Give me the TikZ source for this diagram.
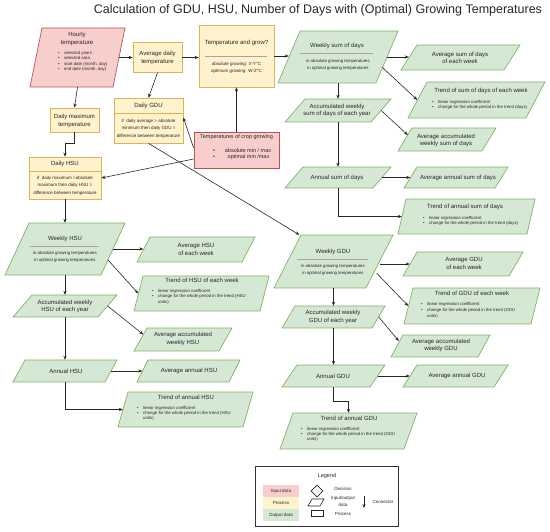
\documentclass[tikz,border=0pt]{standalone}
\usepackage{fontspec}
\setmainfont{Liberation Sans}
\usetikzlibrary{arrows.meta,calc,shapes.geometric}
\definecolor{redF}{HTML}{F8CECC}\definecolor{redD}{HTML}{B85450}
\definecolor{ylwF}{HTML}{FFF2CC}\definecolor{ylwD}{HTML}{D6B656}
\definecolor{grnF}{HTML}{D5E8D4}\definecolor{grnD}{HTML}{82B366}
\tikzset{
 redbox/.style={draw=redD, fill=redF, line width=0.7pt},
 ylwbox/.style={draw=ylwD, fill=ylwF, line width=0.7pt},
 grnbox/.style={draw=grnD, fill=grnF, line width=0.7pt},
 txt/.style={font=\fontsize{6}{7.5}\selectfont, inner sep=0pt, align=center, text=black!85},
 txtb/.style={font=\fontsize{5.5}{6.5}\selectfont, inner sep=0pt, align=center, text=black!85},
 sml/.style={font=\fontsize{4.3}{7}\selectfont, inner sep=0pt, align=center, text=black!85},
 arr/.style={-{Stealth[length=4pt,width=3.2pt]}, line width=0.6pt, draw=black!85},
 sepline/.style={draw=gray!70, line width=0.5pt},
}
\newcommand\pgram[7]{%
 \draw[#1] (#3,#5) -- (#4,#5) -- ({#4-#7},#6) -- ({#3-#7},#6) -- cycle;
 \pgfmathsetmacro\pgWid{#4-#3}\pgfmathsetmacro\pgHei{#6-#5}%
 \pgfmathsetmacro\pgCx{(#3+#4-#7)/2}\pgfmathsetmacro\pgCy{(#5+#6)/2}%
 \node[inner sep=0pt, minimum width=\pgWid pt, minimum height=\pgHei pt] (#2) at (\pgCx,\pgCy) {};
}
\newcommand\blist[5]{\node[anchor=base west, inner sep=0pt, align=left, text=black!85, font=\fontsize{4.3}{#4}\selectfont] (#1) at (#2,#3) {\begin{tabular}[t]{@{}l@{\hspace{4.5pt}}l@{}}#5\end{tabular}};}
\begin{document}
\begin{tikzpicture}[x=1pt,y=-1pt]
\useasboundingbox (0,0) rectangle (550,532);
% title
\node[inner sep=0pt, font=\fontsize{12.5}{14}\selectfont, text=black!85] (title) at (318,10) {Calculation of GDU, HSU, Number of Days with (Optimal) Growing Temperatures};

% ---- top row
\pgram{redbox}{hourly}{42}{125}{28}{87}{12}
\node[txt, font=\fontsize{6}{8}\selectfont] (hourlyT) at (77,39) {Hourly\\temperature};
\blist{hourlyL}{58}{54.5}{5.3}{•&selected years\\•&selected area\\•&start date (month, day)\\•&end date (month, day)}

\node[ylwbox, minimum width=49pt, minimum height=30pt, inner sep=0pt] (avgd) at (157.5,57.5) {};
\node[txt, font=\fontsize{6}{8}\selectfont] (avgdT) at (157.5,58) {Average daily\\temperature};

\node[ylwbox, minimum width=75pt, minimum height=62pt, inner sep=0pt] (tg) at (236.5,56) {};
\node[txt] (tgT) at (236.5,43) {Temperature and grow?};
\draw[sepline] (205,56) -- (267,56);
\node[sml, font=\fontsize{4.5}{7.5}\selectfont] (tgS) at (236.5,68) {absolute growing: X-Y°C\\optimum growing: W-Z°C};

\node[ylwbox, minimum width=49pt, minimum height=24pt, inner sep=0pt] (dmax) at (74.5,120) {};
\node[txt, font=\fontsize{6}{8}\selectfont] (dmaxT) at (74.5,121) {Daily maximum\\temperature};

\node[ylwbox, minimum width=69pt, minimum height=45pt, inner sep=0pt] (dgdu) at (148.5,120.5) {};
\draw[draw=ylwD, line width=0.7pt] (dgdu.west |- 0,113) -- (dgdu.east |- 0,113);
\node[txt] (dgduT) at (148.5,106) {Daily GDU};
\node[sml, font=\fontsize{4.5}{7.5}\selectfont] (dgduS) at (148.5,128.5) {if~ daily average > absolute\\minimum then daily GDU =\\difference between temperature};

\node[redbox, minimum width=85pt, minimum height=36pt, inner sep=0pt] (crop) at (236.5,150) {};
\node[txtb] (cropT) at (236.5,137.5) {Temperatures of crop growing};
\node[txtb] (cropB1) at (214,151) {•};
\node[txtb] (cropB2) at (214,157.5) {•};
\node[txtb] (cropL1) at (248,151) {absolute min / max};
\node[txtb] (cropL2) at (248.5,157.5) {optimal min /max};

\node[ylwbox, minimum width=72pt, minimum height=42pt, inner sep=0pt] (dhsu) at (65,178) {};
\draw[draw=ylwD, line width=0.7pt] (dhsu.west |- 0,171) -- (dhsu.east |- 0,171);
\node[txt] (dhsuT) at (65,164) {Daily HSU};
\node[sml, font=\fontsize{4.5}{7.5}\selectfont] (dhsuS) at (65,185.5) {if~ daily maximum >absolute\\maximum then daily HSU =\\difference between temperature};

% ---- right column: sum of days
\pgram{grnbox}{wsd}{300}{398}{31}{83}{22}
\node[txt] (wsdT) at (337,46) {Weekly sum of days};
\draw[sepline] (300,53) -- (373,53);
\node[sml] (wsdS) at (338,64.5) {in absolute growing temperatures\\in optimal growing temperatures};

\pgram{grnbox}{asd}{417}{520}{45}{70}{16}
\node[txt] (asdT) at (460,58) {Average sum of days\\of each week};

\pgram{grnbox}{tsd}{427}{545}{82}{118}{19}
\node[txt] (tsdT) at (481,91) {Trend of sum of days of each week};
\blist{tsdL}{432}{103.5}{5.5}{•&linear regression coefficient\\•&change for the whole period in the trend (days)}

\pgram{grnbox}{acd}{305}{391}{99}{122}{20}
\node[txt] (acdT) at (337,110.5) {Accumulated weekly\\sum of days of each year};

\pgram{grnbox}{aacd}{412}{496}{128}{151}{14}
\node[txt] (aacdT) at (446,140.5) {Average accumulated\\weekly sum of days};

\pgram{grnbox}{asum}{303}{391}{167}{188}{18}
\node[txt] (asumT) at (337,178) {Annual sum of days};

\pgram{grnbox}{aasd}{417}{508}{167}{188}{13}
\node[txt] (aasdT) at (458,178) {Average annual sum of days};

\pgram{grnbox}{tasd}{406}{535}{199}{234}{8}
\node[txt] (tasdT) at (465,207) {Trend of annual sum of days};
\blist{tasdL}{423}{219.5}{5.5}{•&linear regression coefficient\\•&change for the whole period in the trend (days)}

% ---- right column: GDU
\pgram{grnbox}{wgdu}{301}{393}{235}{288}{27}
\node[txt] (wgduT) at (333,252) {Weekly GDU};
\draw[sepline] (297,259) -- (368,259);
\node[sml] (wgduS) at (333,269.5) {in absolute growing temperatures\\in optimal growing temperatures};

\pgram{grnbox}{agdu}{417}{523}{252}{276}{14}
\node[txt] (agduT) at (464,263.5) {Average GDU\\of each week};

\pgram{grnbox}{tgdu}{413}{540}{288}{324}{9}
\node[txt] (tgduT) at (472,293) {Trend of GDU of each week};
\blist{tgduL}{421}{305.5}{5.8}{•&linear regression coefficient\\•&change for the whole period in the trend (GDU\\&units)}

\pgram{grnbox}{accg}{295}{385}{306}{328}{13}
\node[txt] (accgT) at (333,317) {Accumulated weekly\\GDU of each year};

\pgram{grnbox}{aacg}{403}{490}{335}{357}{12}
\node[txt] (aacgT) at (441,345.5) {Average accumulated\\weekly GDU};

\pgram{grnbox}{anng}{297}{385}{365}{387}{15}
\node[txt] (anngT) at (333,376.5) {Annual GDU};

\pgram{grnbox}{aang}{417}{508}{365}{387}{14}
\node[txt] (aangT) at (457,376) {Average annual GDU};

\pgram{grnbox}{tang}{293}{417}{413}{449}{13}
\node[txt] (tangT) at (349,418.5) {Trend of annual GDU};
\blist{tangL}{301}{430.5}{5.2}{•&linear regression coefficient\\•&change for the whole period in the trend (GDU\\&units)}

% ---- left column: HSU
\pgram{grnbox}{whsu}{29}{125}{223}{275}{24}
\node[txt] (whsuT) at (65,239) {Weekly HSU};
\draw[sepline] (30,246) -- (99,246);
\node[sml] (whsuS) at (65,257) {in absolute growing temperatures\\in optimal growing temperatures};

\pgram{grnbox}{ahsu}{150}{255}{237}{262}{13}
\node[txt] (ahsuT) at (196,249.5) {Average HSU\\of each week};

\pgram{grnbox}{thsu}{143}{269}{276}{311}{9}
\node[txt] (thsuT) at (202,280.5) {Trend of HSU of each week};
\blist{thsuL}{152}{292.5}{5.4}{•&linear regression coefficient\\•&change for the whole period in the trend (HSU\\&units)}

\pgram{grnbox}{acch}{32}{117}{295}{317}{19}
\node[txt] (acchT) at (65,306.5) {Accumulated weekly\\HSU of each year};

\pgram{grnbox}{aach}{147}{232}{328}{351}{13}
\node[txt] (aachT) at (183,339) {Average accumulated\\weekly HSU};

\pgram{grnbox}{annh}{25}{117}{360}{382}{12}
\node[txt] (annhT) at (66,371) {Annual HSU};

\pgram{grnbox}{aanh}{148}{240}{360}{382}{11}
\node[txt] (aanhT) at (189,371) {Average annual HSU};

\pgram{grnbox}{tanh}{128}{253}{392}{427}{10}
\node[txt] (tanhT) at (186,397) {Trend of annual HSU};
\blist{tanhL}{137}{409.5}{5.2}{•&linear regression coefficient\\•&change for the whole period in the trend (HSU\\&units)}

% ---- connectors
\draw[arr] (hourly.east) -- (avgd.west |- hourly.east);
\draw[arr] (avgd.east) -- (avgd.east -| tg.west);
\draw[arr] (tg.east) -- (tg.east -| wsd.west);
\draw[arr] (hourly.south) -- (dmax.north);
\draw[arr] (avgd.south) -- (dgdu.north);
\draw[arr] (dmax.south) -- ++(0,11) -| (dhsu.north);
\draw[arr] (crop.north) -- (tg.south);
\draw[arr] ($(crop.west)+(0,-2)$) -- ($(dgdu.east)+(0,-3)$);
\draw[arr] ($(crop.west)+(0,9)$) -- (dhsu.east);
\draw[arr] (dgdu.south) -- ($(wgdu.north west)+(12,0)$);
\draw[arr] (dhsu.south) -- (dhsu.south |- whsu.north);

\draw[arr] (whsu.east) -- (whsu.east -| ahsu.west);
\draw[arr] ($(whsu.center)+(43,11)$) -- (thsu.west);
\draw[arr] (whsu.south) -- (whsu.south |- acch.north);
\draw[arr] (acch.east) -- ($(aach.west)+(3,-5)$);
\draw[arr] (acch.south) -- (acch.south |- annh.north);
\draw[arr] (annh.east) -- (annh.east -| aanh.west);
\draw[arr] (annh.south) |- (tanh.west);

\draw[arr] (wsd.east) -- (wsd.east -| asd.west);
\draw[arr] ($(wsd.center)+(44,10)$) -- (tsd.west);
\draw[arr] (wsd.south) -- (wsd.south |- acd.north);
\draw[arr] (acd.east) -- ($(aacd.west)+(3,-4.5)$);
\draw[arr] (acd.south) -- (acd.south |- asum.north);
\draw[arr] (asum.east) -- (asum.east -| aasd.west);
\draw[arr] (asum.south) |- (tasd.west);

\draw[arr] (wgdu.east |- agdu.west) -- (agdu.west);
\draw[arr] ($(wgdu.center)+(43,11.5)$) -- (tgdu.west);
\draw[arr] (wgdu.south) -- (wgdu.south |- accg.north);
\draw[arr] (accg.east) -- ($(aacg.west)+(2,-5)$);
\draw[arr] (accg.south) -- (accg.south |- anng.north);
\draw[arr] (anng.east) -- (anng.east -| aang.west);
\draw[arr] (anng.south) -- ++(0,14) -| (tang.north);

% ---- legend
\node[draw=black!80, line width=0.7pt, minimum width=143pt, minimum height=60pt, inner sep=0pt] (legend) at (326.5,496) {};
\node[txtb] (legendT) at (327,476) {Legend};
\node[fill=redF, minimum width=36pt, minimum height=12pt, inner sep=0pt, font=\fontsize{4.5}{5}\selectfont, text=black!85] (lgin) at (281,491) {Input data};
\node[fill=ylwF, minimum width=36pt, minimum height=12pt, inner sep=0pt, font=\fontsize{4.5}{5}\selectfont, text=black!85] (lgpr) at (281,503) {Process};
\node[fill=grnF, minimum width=36pt, minimum height=12pt, inner sep=0pt, font=\fontsize{4.5}{5}\selectfont, text=black!85] (lgout) at (281,515) {Output data};
\node[draw=black!85, line width=0.6pt, diamond, aspect=1, minimum width=12pt, minimum height=12pt, inner sep=0pt] (lgdec) at (317,491) {};
\draw[draw=black!85, line width=0.6pt] (312,499) -- (324,499) -- (320,506) -- (308,506) -- cycle;
\node[draw=black!85, line width=0.6pt, minimum width=12pt, minimum height=6pt, inner sep=0pt] (lgproc) at (317,513.5) {};
\node[sml, font=\fontsize{4.5}{6.5}\selectfont] (lgdecT) at (343,489) {Decision};
\node[sml, font=\fontsize{4.5}{7}\selectfont] (lgioT) at (343,501.5) {Input/output\\data};
\node[sml, font=\fontsize{4.5}{6.5}\selectfont] (lgprT) at (343,514) {Process};
\coordinate (lgcs) at (364,496);
\coordinate (lgce) at (364,508);
\draw[arr] (lgcs) -- (lgce);
\node[sml, font=\fontsize{4.5}{6.5}\selectfont] (lgcT) at (383,502) {Connector};
\end{tikzpicture}
\end{document}
